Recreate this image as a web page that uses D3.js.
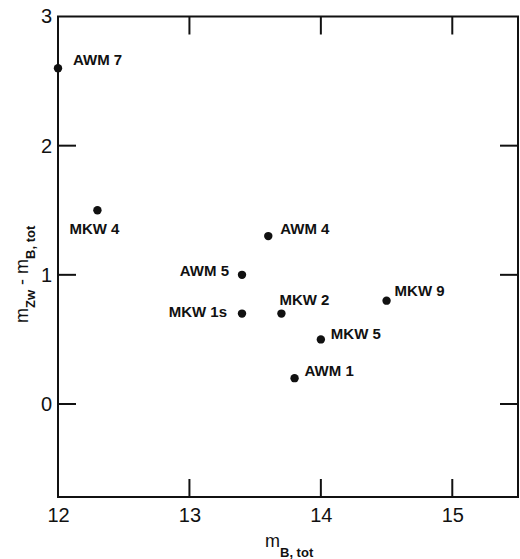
<!doctype html>
<html>
    <head>
        <meta charset="utf-8">
        <title>m_Zw - m_B,tot vs m_B,tot</title>
        <script src="https://d3js.org/d3.v7.min.js"></script>
        <style type="text/css">
            body { margin:0; background:#fff; }
            text { font-family:"Liberation Sans", Arial, sans-serif; fill:#111; }
            .tick text { font-size:20px; }
            .lbl { font-size:15px; font-weight:bold; }
        </style>
    </head>
    <body>
        <svg></svg>
        <script type="text/javascript">

            var w = 520,
                h = 559;

            // galaxy groups
            var names = ['AWM 7', 'MKW 4', 'AWM 4', 'AWM 5', 'MKW 1s', 'MKW 2', 'MKW 5', 'AWM 1', 'MKW 9'];
            var mBtot = [12.0, 12.3, 13.6, 13.4, 13.4, 13.7, 14.0, 13.8, 14.5];
            var colour = [2.6, 1.5, 1.3, 1.0, 0.7, 0.7, 0.5, 0.2, 0.8];

            var xTicks = [12, 13, 14, 15],
                yTicks = [0, 1, 2, 3];
            var xInner = [13, 14, 15],
                yInner = [0, 1, 2];

            // where each label sits relative to its dot: [dx, dy, anchor]
            var labelPos = [
                [15, -3, 'start'],
                [-3, 24, 'middle'],
                [12, -2, 'start'],
                [-13, 1, 'end'],
                [-15, 3, 'end'],
                [-2, -9, 'start'],
                [10, 0, 'start'],
                [10, -2, 'start'],
                [8, -5, 'start']
            ];

            var x = d3.scaleLinear().domain([12, 15.5]).range([58, 518]);
            var y = d3.scaleLinear().domain([-0.72, 3]).range([497, 16.5]);

            var x0 = x.range()[0], x1 = x.range()[1],
                y0 = y.range()[0], y1 = y.range()[1],
                tk = 18;

            var svg = d3.select('svg')
                .attr('width', w)
                .attr('height', h);

            svg.append('g')
                .attr('transform', 'translate(0,' + y0 + ')')
                .call(d3.axisBottom(x).tickValues(xTicks).tickSize(0).tickPadding(11)
                    .tickFormat(d3.format('d')));

            svg.append('g')
                .attr('transform', 'translate(' + x0 + ',0)')
                .call(d3.axisLeft(y).tickValues(yTicks).tickSize(0).tickPadding(6)
                    .tickFormat(d3.format('d')));

            // frame
            svg.append('rect')
                .attr('x', x0)
                .attr('y', y1)
                .attr('width', x1 - x0)
                .attr('height', y0 - y1)
                .attr('fill', 'none')
                .attr('stroke', '#111')
                .attr('stroke-width', 2);

            svg.selectAll('.domain').remove();

            // inward ticks on all four sides
            var ticks = svg.append('g')
                .attr('stroke', '#111')
                .attr('stroke-width', 2);

            xInner.forEach(function(v) {
                ticks.append('line').attr('x1', x(v)).attr('x2', x(v)).attr('y1', y0).attr('y2', y0 - tk);
                ticks.append('line').attr('x1', x(v)).attr('x2', x(v)).attr('y1', y1).attr('y2', y1 + tk);
            });
            yInner.forEach(function(v) {
                ticks.append('line').attr('x1', x0).attr('x2', x0 + tk).attr('y1', y(v)).attr('y2', y(v));
                ticks.append('line').attr('x1', x1).attr('x2', x1 - tk).attr('y1', y(v)).attr('y2', y(v));
            });

            // points
            svg.selectAll('circle')
                .data(names)
                .enter()
                .append('circle')
                .attr('cx', function(d, i) { return x(mBtot[i]); })
                .attr('cy', function(d, i) { return y(colour[i]); })
                .attr('r', 4.2)
                .attr('fill', '#111');

            svg.selectAll('text.lbl')
                .data(names)
                .enter()
                .append('text')
                .attr('class', 'lbl')
                .attr('x', function(d, i) { return x(mBtot[i]) + labelPos[i][0]; })
                .attr('y', function(d, i) { return y(colour[i]) + labelPos[i][1]; })
                .attr('text-anchor', function(d, i) { return labelPos[i][2]; })
                .text(function(d) { return d; });

            // axis titles
            var xt = svg.append('text')
                .attr('x', 265)
                .attr('y', 547)
                .style('font-size', '18px');
            xt.append('tspan').text('m');
            xt.append('tspan').attr('dy', 10).style('font-size', '13px').style('font-weight', 'bold').text('B, tot');

            var yt = svg.append('text')
                .attr('transform', 'translate(28,323) rotate(-90)')
                .style('font-size', '18px');
            yt.append('tspan').text('m');
            yt.append('tspan').attr('dy', 7).style('font-size', '13px').style('font-weight', 'bold').text('Zw');
            yt.append('tspan').attr('dy', -7).text(' - m');
            yt.append('tspan').attr('dy', 7).style('font-size', '13px').style('font-weight', 'bold').text('B, tot');
        </script>
    </body>
</html>
